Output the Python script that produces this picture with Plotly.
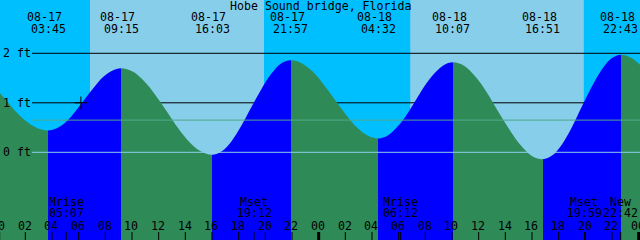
import plotly.graph_objects as go

TITLE = "Hobe Sound bridge, Florida"

# ---- tide extremes (labelled) ----
tide_dates = ["08-17", "08-17", "08-17", "08-17", "08-18", "08-18", "08-18", "08-18"]
tide_times = ["03:45", "09:15", "16:03", "21:57", "04:32", "10:07", "16:51", "22:43"]
tide_kind = ["L", "H", "L", "H", "L", "H", "L", "H"]

# ---- tide curve readings (hours after 08-17 00:00, feet) ----
curve_hours = [-1.20, -0.375, 0.45, 1.275, 2.10, 2.925, 3.75,
               4.44, 5.13, 5.81, 6.50, 7.19, 7.88, 8.56, 9.25,
               10.10, 10.95, 11.80, 12.65, 13.50, 14.35, 15.20, 16.05,
               16.79, 17.53, 18.26, 19.00, 19.74, 20.48, 21.21, 21.95,
               22.77, 23.60, 24.42, 25.24, 26.07, 26.89, 27.71, 28.53,
               29.23, 29.93, 30.63, 31.33, 32.02, 32.72, 33.42, 34.12,
               34.96, 35.80, 36.64, 37.48, 38.33, 39.17, 40.01, 40.85,
               41.58, 42.32, 43.05, 43.78, 44.52, 45.25, 45.98, 46.72,
               47.55, 48.39, 49.22]
curve_ft = [1.56, 1.35, 1.10, 0.84, 0.63, 0.49, 0.44,
            0.49, 0.62, 0.83, 1.07, 1.31, 1.52, 1.65, 1.70,
            1.63, 1.44, 1.16, 0.83, 0.49, 0.21, 0.02, -0.05,
            0.02, 0.23, 0.54, 0.91, 1.27, 1.58, 1.79, 1.86,
            1.80, 1.63, 1.37, 1.07, 0.77, 0.51, 0.34, 0.28,
            0.34, 0.51, 0.75, 1.05, 1.35, 1.59, 1.76, 1.82,
            1.75, 1.53, 1.22, 0.84, 0.47, 0.15, -0.07, -0.14,
            -0.06, 0.17, 0.51, 0.92, 1.32, 1.66, 1.89, 1.97,
            1.90, 1.70, 1.41]

# ---- sun ----
sunrise_dates = ["08-17", "08-18"]
sunrise_times = ["06:54", "06:55"]
sunset_dates = ["08-17", "08-18"]
sunset_times = ["19:57", "19:56"]

# ---- moon events ----
moon_names = ["Mrise", "Mset", "Mrise", "Mset", "New"]
moon_dates = ["08-17", "08-17", "08-18", "08-18", "08-18"]
moon_times = ["05:07", "19:12", "06:12", "19:59", "22:42"]

# ---- levels ----
level_values = [2, 1, 0]
level_labels = ["2 ft", "1 ft", "0 ft"]
mean_level = 0.65
mark_time = ("08-17", "06:13")
mark_level = 1.0

hour_ticks = list(range(0, 49, 2))
hour_labels = ["%02d" % (h % 24) for h in hour_ticks]

DAY0 = 17


def hrs(date, hm):
    d = int(date.split("-")[1]) - DAY0
    h, m = hm.split(":")
    return d * 24 + int(h) + int(m) / 60.0


NIGHT = "#00BFFF"
DAY = "#87CEEB"
FLOOD = "#0000FF"
EBB = "#2E8B57"
FONT = dict(family="DejaVu Sans Mono", size=11.6, color="black")

W, H = 640, 240
X0, X1 = 0.15, 48.15
Y0, Y1 = -1.772, 3.077


def py(p):
    return 1 - p / H


def px(h):
    return (h - X0) / (X1 - X0)


fig = go.Figure()

# water fill with flood / ebb colouring
ev_hours = [hrs(d, t) for d, t in zip(tide_dates, tide_times)]
start, stop = curve_hours[0], curve_hours[-1]
col = lambda k: FLOOD if k == "H" else EBB
cs = [[0.0, col(tide_kind[0])]]
for i, t in enumerate(ev_hours):
    p = (t - start) / (stop - start)
    before = col(tide_kind[i])
    after = col(tide_kind[i + 1]) if i + 1 < len(tide_kind) else EBB
    cs.append([p, before])
    cs.append([p, after])
cs.append([1.0, EBB])

fig.add_trace(go.Scatter(x=[start, stop], y=[Y0 - 2, Y0 - 2], mode="lines",
                         line=dict(width=0), hoverinfo="skip", showlegend=False))
fig.add_trace(go.Scatter(x=curve_hours, y=curve_ft, mode="lines",
                         line=dict(width=0, shape="spline", smoothing=1),
                         fill="tonexty", fillcolor=EBB,
                         fillgradient=dict(type="horizontal", start=start, stop=stop,
                                           colorscale=cs),
                         hoverinfo="skip", showlegend=False))

# mark
fig.add_trace(go.Scatter(x=[hrs(*mark_time)], y=[mark_level], mode="markers",
                         marker=dict(symbol="cross-thin", size=9,
                                     line=dict(color="black", width=1)),
                         hoverinfo="skip", showlegend=False))

shapes = []
for rd, rt, sd, st in zip(sunrise_dates, sunrise_times, sunset_dates, sunset_times):
    shapes.append(dict(type="rect", xref="x", yref="paper", x0=hrs(rd, rt), x1=hrs(sd, st),
                       y0=0, y1=1, fillcolor=DAY, line=dict(width=0), layer="below"))
for v in level_values[:2]:
    shapes.append(dict(type="line", xref="paper", yref="y", x0=32 / W, x1=1, y0=v, y1=v,
                       line=dict(color="black", width=1), layer="below"))
shapes.append(dict(type="line", xref="paper", yref="y", x0=32 / W, x1=1, y0=0, y1=0,
                   line=dict(color="#8dd0ea", width=1), layer="above"))
shapes.append(dict(type="line", xref="paper", yref="y", x0=32 / W, x1=1,
                   y0=mean_level, y1=mean_level,
                   line=dict(color="#4ea88c", width=1), layer="above"))
# ticks
for h in hour_ticks:
    w = 3 if (h % 24 == 0) else 1
    shapes.append(dict(type="line", xref="x", yref="paper", x0=h + 0.05, x1=h + 0.05,
                       y0=0, y1=py(232), line=dict(color="black", width=w), layer="above"))
for d, t in zip(moon_dates, moon_times):
    x = hrs(d, t)
    shapes.append(dict(type="line", xref="x", yref="paper", x0=x, x1=x,
                       y0=0, y1=py(232), line=dict(color="black", width=1), layer="above"))

ann = []


def add_text(xp, yp, text, xshift=0, xanchor="center"):
    ann.append(dict(x=xp, xref="paper", y=yp, yref="paper", text=text, xshift=xshift,
                    showarrow=False, font=FONT, xanchor=xanchor, yanchor="middle"))


add_text(0.5, py(6), TITLE)
for d, t, x in zip(tide_dates, tide_times, ev_hours):
    add_text(px(x), py(17.5), d, xshift=-3.5)
    add_text(px(x), py(29), t)
for v, lab in zip(level_values, level_labels):
    ann.append(dict(x=1 / W, xref="paper", y=v, yref="y", text=lab, xanchor="left",
                    showarrow=False, font=FONT, yanchor="middle"))
for h, lab in zip(hour_ticks, hour_labels):
    add_text(px(h), py(226), lab)
for n, d, t in zip(moon_names, moon_dates, moon_times):
    x = hrs(d, t)
    add_text(px(x), py(202), n)
    add_text(px(x), py(213), t)

fig.update_layout(
    width=W, height=H, margin=dict(l=0, r=0, t=0, b=0),
    paper_bgcolor=NIGHT, plot_bgcolor=NIGHT,
    xaxis=dict(range=[X0, X1], visible=False, fixedrange=True),
    yaxis=dict(range=[Y0, Y1], visible=False, fixedrange=True),
    shapes=shapes, annotations=ann, showlegend=False,
)
fig.write_html("out.html", config={"displayModeBar": False})
